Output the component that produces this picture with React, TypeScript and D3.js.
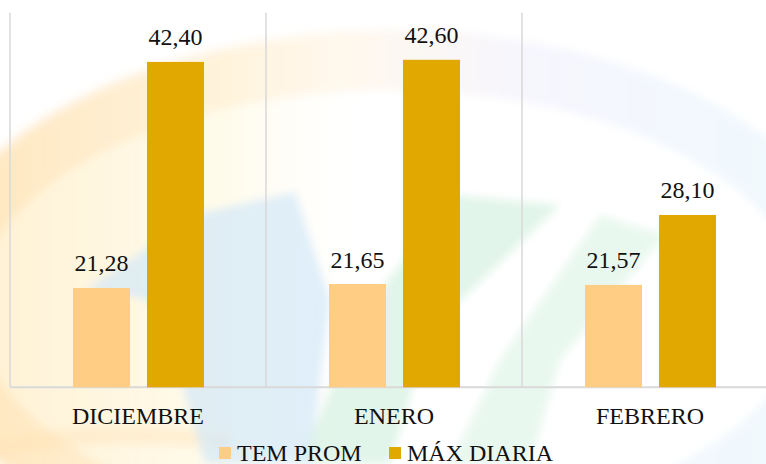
import React from 'react';
import * as d3 from 'd3';

const categories = ['DICIEMBRE', 'ENERO', 'FEBRERO'];
const seriesNames = ['TEM PROM', 'MÁX DIARIA'];
const temProm = [21.28, 21.65, 21.57];
const maxDiaria = [42.4, 42.6, 28.1];
const seriesColors = ['#FFCE84', '#E0A800'];

const W = 766;
const H = 464;
const FONT = "'Liberation Serif', 'Times New Roman', Tinos, 'DejaVu Serif', serif";

const locale = d3.formatLocale({ decimal: ',', thousands: '.', grouping: [3], currency: ['', ''] });
const fmt = locale.format('.2f');

export default function App() {
  const x0 = d3.scaleBand<string>().domain(categories).range([10, 778]).paddingInner(0).paddingOuter(0);
  const x1 = d3.scaleBand<string>().domain(seriesNames).range([63, 194]).paddingInner(17 / 74).paddingOuter(0);
  const y = d3.scaleLinear().domain([12, 47]).range([387.3, 12.7]);
  const values = [temProm, maxDiaria];
  const baseY = y(12);
  const topY = y(47);

  const legendItems = [
    { name: seriesNames[0], color: seriesColors[0], x: 219 },
    { name: seriesNames[1], color: seriesColors[1], x: 389 },
  ];
  const textStyle = { fontFamily: FONT, fontSize: '24px' } as React.CSSProperties;

  return (
    <div style={{ position: 'fixed', left: 0, top: 0, width: W, height: H }}>
      <svg width={W} height={H} viewBox={`0 0 ${W} ${H}`} style={{ display: 'block' }}>
        <defs>
          <filter id="blur" x="-20%" y="-20%" width="140%" height="140%">
            <feGaussianBlur stdDeviation="4" />
          </filter>
          <linearGradient id="ringGrad" gradientUnits="userSpaceOnUse" x1="0" y1="0" x2="766" y2="0">
            <stop offset="0" stopColor="#ffd49a" />
            <stop offset="0.45" stopColor="#ffe9c8" />
            <stop offset="0.68" stopColor="#e6e4fa" />
            <stop offset="1" stopColor="#d2ecfa" />
          </linearGradient>
          <linearGradient id="creamGrad" gradientUnits="userSpaceOnUse" x1="0" y1="0" x2="766" y2="0">
            <stop offset="0" stopColor="#fff2d6" stopOpacity="1" />
            <stop offset="0.3" stopColor="#fffbea" stopOpacity="0.9" />
            <stop offset="0.5" stopColor="#ffffff" stopOpacity="0" />
          </linearGradient>
        </defs>
        <rect x={0} y={0} width={W} height={H} fill="#ffffff" />
        <g filter="url(#blur)">
          <ellipse cx={390} cy={308} rx={470} ry={273} fill="url(#creamGrad)" />
          <ellipse cx={390} cy={308} rx={445} ry={248} fill="none" stroke="url(#ringGrad)" strokeWidth={60} opacity={0.32} />
          <path d="M -20 452 Q 100 424 230 442" fill="none" stroke="#ffe2b4" strokeWidth={18} opacity={0.4} />
          <polygon points="85,290 200,213 295,192 330,300 310,464 205,464 175,360 150,300" fill="#d3e8f8" opacity={0.7} />
          <polygon points="455,195 560,205 430,330 390,464 300,464 330,390 380,290" fill="#d2efdf" opacity={0.65} />
          <polygon points="600,215 665,235 560,360 530,464 450,464 500,360" fill="#ddf5e6" opacity={0.65} />
        </g>

        {categories.map((c) => (
          <line key={'g' + c} x1={x0(c)} x2={x0(c)} y1={topY} y2={baseY} stroke="#d9d9d9" strokeWidth={1.5} />
        ))}
        <line x1={10} x2={W} y1={baseY} y2={baseY} stroke="#d9d9d9" strokeWidth={2} />

        {categories.map((c, i) => (
          <g key={'c' + c} transform={`translate(${x0(c)},0)`}>
            {seriesNames.map((s, j) => {
              const v = values[j][i];
              const bx = x1(s)!;
              const bw = x1.bandwidth();
              return (
                <g key={s}>
                  <rect x={bx} y={y(v)} width={bw} height={baseY - y(v)} fill={seriesColors[j]} />
                  <text x={bx + bw / 2} y={y(v) - 16.5} textAnchor="middle" style={textStyle} fill="#111">
                    {fmt(v)}
                  </text>
                </g>
              );
            })}
            <text x={x0.bandwidth() / 2} y={424.3} textAnchor="middle" style={textStyle} fill="#111">
              {c}
            </text>
          </g>
        ))}

        {legendItems.map((it) => (
          <g key={it.name}>
            <rect x={it.x} y={447} width={12} height={12} fill={it.color} />
            <text x={it.x + 18} y={460.5} style={textStyle} fill="#111">
              {it.name}
            </text>
          </g>
        ))}
      </svg>
    </div>
  );
}
